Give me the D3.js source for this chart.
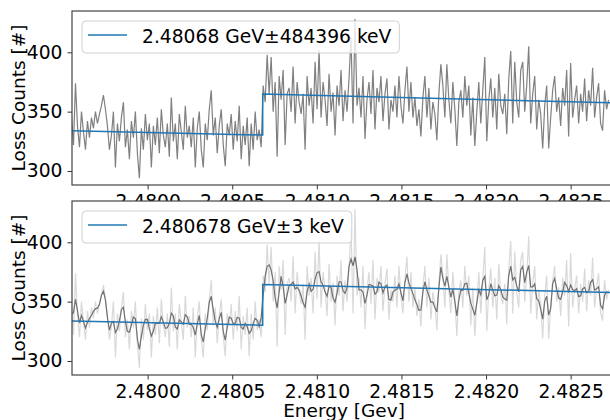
<!DOCTYPE html>
<html><head><meta charset="utf-8">
<script src="https://cdn.jsdelivr.net/npm/d3@7"></script>
<style>body{margin:0;background:#fff}svg{display:block}text{font-family:"DejaVu Sans",sans-serif}</style>
</head><body>
<script>
// ---- data ----
const energyStart = 2.47955;   // GeV, first sample
const energyStep = 0.0000118;  // GeV per sample
const lossCounts = [
345,322,374,338,320,350,333,318,342,328,
345,336,350,340,348,355,364,352,338,318,
330,350,303,340,325,345,358,320,335,310,
342,328,350,315,294,336,318,348,326,340,
303,338,322,345,315,352,330,320,340,312,
362,325,340,310,348,333,318,355,328,338,
320,345,303,336,350,318,303,340,326,352,
368,330,345,315,338,352,322,304,340,330,
348,318,342,325,355,310,338,322,345,304,
340,318,350,326,335,320,
372,358,398,365,396,350,375,312,380,360,
385,322,365,370,350,388,340,375,358,348,
365,318,380,355,370,340,392,352,402,345,
375,360,338,382,350,366,330,372,355,385,
342,368,350,378,413,340,428,355,370,345,
380,327,360,375,348,385,335,370,358,380,
342,365,378,335,360,350,372,345,380,355,
340,368,388,350,375,345,362,338,352,329,
362,380,345,370,335,358,348,326,365,390,
372,345,390,360,340,375,352,321,358,368,
345,380,355,372,330,362,321,350,375,340,
368,396,325,360,378,345,370,335,382,355,
348,365,331,378,401,340,392,358,345,385,
392,350,372,405,340,365,380,335,360,348,
319,355,372,319,345,368,380,350,362,338,
370,355,385,329,391,345,360,372,340,365,
350,378,342,368,355,387,345,362,374,340,
334,368,352,360
];
const fitEnergy = [2.47955, 2.48068, 2.48068, 2.48278];
const fitTop = [334.0, 330.3, 364.8, 357.4];
const fitBottom = [333.8, 330.2, 364.5, 357.6];
const legendTop = "2.48068 GeV\u00b1484396 keV";
const legendBottom = "2.480678 GeV\u00b13 keV";
const xTicks = [2.4800, 2.4805, 2.4810, 2.4815, 2.4820, 2.4825];
const yTicks = [300, 350, 400];

// ---- layout ----
const W = 610, H = 420;
const svg = d3.select("body").append("svg").attr("width", W).attr("height", H);
const x = d3.scaleLinear().domain([2.479553, 2.482768]).range([72, 616]);
const energies = lossCounts.map((_, i) => energyStart + i * energyStep);
const raw = lossCounts.map((v, i) => [energies[i], v]);
const smooth = lossCounts.map((v, i) => {
  const a = lossCounts[Math.max(0, i - 1)], c = lossCounts[Math.min(lossCounts.length - 1, i + 1)];
  return [energies[i], (a + 2 * v + c) / 4];
});

function panel(top, bottom, id, fitVals, legendText, showSmooth) {
  const y = d3.scaleLinear().domain([288.2, 434.8]).range([bottom, top]);
  const g = svg.append("g");
  g.append("rect").attr("x", 72).attr("y", top).attr("width", 544).attr("height", bottom - top).attr("fill", "#fff");
  g.append("clipPath").attr("id", id).append("rect").attr("x", 72).attr("y", top).attr("width", 544).attr("height", bottom - top);
  const line = d3.line().x(d => x(d[0])).y(d => y(d[1]));
  const plot = g.append("g").attr("clip-path", `url(#${id})`);
  if (showSmooth) {
    plot.append("path").datum(raw).attr("d", line).attr("fill", "none").attr("stroke", "#808080").attr("stroke-opacity", 0.3).attr("stroke-width", 1.2);
    plot.append("path").datum(smooth).attr("d", line).attr("fill", "none").attr("stroke", "#707070").attr("stroke-width", 1.2);
  } else {
    plot.append("path").datum(raw).attr("d", line).attr("fill", "none").attr("stroke", "#808080").attr("stroke-width", 1.2);
  }
  plot.append("path").datum(fitEnergy.map((e, i) => [e, fitVals[i]])).attr("d", line)
    .attr("fill", "none").attr("stroke", "#1f77b4").attr("stroke-width", 1.5);
  // axes
  const xa = g.append("g").attr("transform", `translate(0,${bottom})`)
    .call(d3.axisBottom(x).tickValues(xTicks).tickFormat(d3.format(".4f")).tickSizeOuter(0).tickSize(4.5).tickPadding(5));
  const ya = g.append("g").attr("transform", `translate(72,0)`)
    .call(d3.axisLeft(y).tickValues(yTicks).tickSizeOuter(0).tickSize(4.5).tickPadding(5));
  [xa, ya].forEach(a => {
    a.select(".domain").remove();
    a.selectAll("line").attr("stroke", "#333").attr("stroke-width", 1);
    a.selectAll("text").attr("font-size", 18.7).attr("fill", "#000").attr("font-family", "DejaVu Sans");
  });
  g.append("rect").attr("x", 72).attr("y", top).attr("width", 544).attr("height", bottom - top)
    .attr("fill", "none").attr("stroke", "#444").attr("stroke-width", 1.2);
  g.append("text").attr("transform", `translate(25,${(top + bottom) / 2}) rotate(-90)`)
    .attr("text-anchor", "middle").attr("font-size", 18.5).text("Loss Counts [#]");
  // legend
  const lg = g.append("g");
  const txt = lg.append("text").attr("x", 142).attr("y", top + 32).attr("font-size", 18.7).text(legendText);
  const tw = txt.node().getComputedTextLength();
  lg.insert("rect", "text").attr("x", 82).attr("y", top + 10).attr("width", 142 + tw + 8 - 82).attr("height", 32)
    .attr("rx", 4).attr("fill", "#fff").attr("fill-opacity", 0.8).attr("stroke", "#d0d0d0");
  lg.insert("line", "text").attr("x1", 88).attr("x2", 127).attr("y1", top + 24).attr("y2", top + 24)
    .attr("stroke", "#1f77b4").attr("stroke-width", 1.5);
  return g;
}
panel(11, 185, "c1", fitTop, legendTop, false);
panel(201, 375, "c2", fitBottom, legendBottom, true);
svg.append("text").attr("x", 344).attr("y", 417).attr("text-anchor", "middle").attr("font-size", 18.5).text("Energy [Gev]");
</script>
</body></html>
